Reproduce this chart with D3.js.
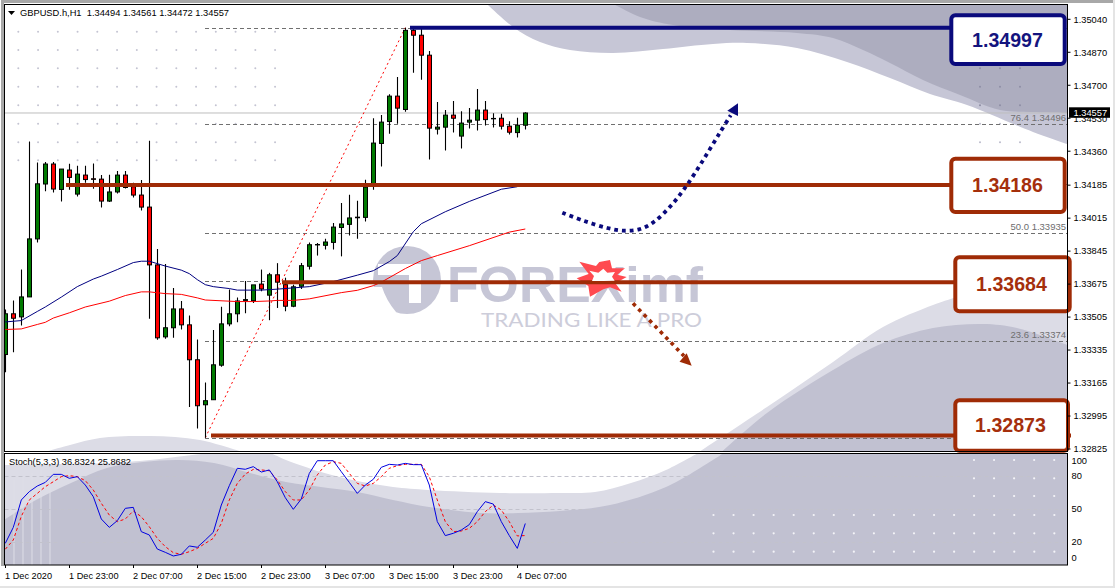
<!DOCTYPE html>
<html><head><meta charset="utf-8">
<script src="https://cdnjs.cloudflare.com/ajax/libs/d3/7.8.5/d3.min.js"></script>
<style>html,body{margin:0;padding:0;background:#fff;overflow:hidden}svg{display:block}text{font-family:"Liberation Sans",Arial,sans-serif}</style>
</head><body><svg id="c" width="1115" height="588"></svg>
<script>
const symbolTitle = "GBPUSD.h,H1  1.34494 1.34561 1.34472 1.34557";
const stochTitle = "Stoch(5,3,3) 36.8324 25.8682";
const opens = [1.33312,1.33522,1.33506,1.33609,1.33908,1.34191,1.34294,1.34163,1.34263,1.34139,1.34237,1.34218,1.34216,1.34103,1.34150,1.34237,1.34177,1.34134,1.34072,1.33774,1.33403,1.33450,1.33547,1.33465,1.33285,1.33053,1.33079,1.33257,1.33470,1.33522,1.33591,1.33590,1.33675,1.33618,1.33723,1.33672,1.33561,1.33664,1.33767,1.33877,1.33875,1.33890,1.33967,1.33983,1.34017,1.34019,1.34187,1.34400,1.34513,1.34644,1.34575,1.34983,1.34958,1.34855,1.34474,1.34484,1.34546,1.34438,1.34510,1.34520,1.34572,1.34529,1.34530,1.34489,1.34456,1.34494];
const highs = [1.33544,1.33590,1.33750,1.34410,1.34302,1.34305,1.34304,1.34268,1.34295,1.34285,1.34285,1.34297,1.34237,1.34239,1.34258,1.34258,1.34197,1.34211,1.34414,1.33856,1.33779,1.33655,1.33588,1.33513,1.33389,1.33168,1.33439,1.33558,1.33647,1.33606,1.33691,1.33671,1.33750,1.33733,1.33783,1.33708,1.33672,1.33784,1.33890,1.33887,1.33909,1.33990,1.34093,1.34136,1.34105,1.34213,1.34530,1.34547,1.34654,1.34743,1.34997,1.34997,1.34990,1.34877,1.34614,1.34573,1.34619,1.34566,1.34583,1.34681,1.34619,1.34556,1.34553,1.34515,1.34532,1.34561];
const lows = [1.33221,1.33324,1.33461,1.33609,1.33890,1.34153,1.34147,1.34101,1.34161,1.34127,1.34197,1.34167,1.34070,1.34098,1.34142,1.34168,1.34122,1.34055,1.33496,1.33388,1.33393,1.33398,1.33441,1.33041,1.32931,1.32883,1.33079,1.33249,1.33458,1.33478,1.33525,1.33578,1.33638,1.33489,1.33552,1.33535,1.33556,1.33650,1.33750,1.33822,1.33853,1.33853,1.33818,1.33926,1.33909,1.33998,1.34161,1.34281,1.34450,1.34501,1.34564,1.34765,1.34729,1.34317,1.34446,1.34364,1.34456,1.34374,1.34477,1.34467,1.34492,1.34482,1.34472,1.34446,1.34431,1.34472];
const closes = [1.33522,1.33499,1.33609,1.33908,1.34192,1.34294,1.34165,1.34268,1.34225,1.34242,1.34214,1.34215,1.34103,1.34150,1.34237,1.34173,1.34134,1.34072,1.33774,1.33398,1.33450,1.33547,1.33465,1.33285,1.33048,1.33074,1.33259,1.33470,1.33522,1.33588,1.33595,1.33671,1.33650,1.33723,1.33685,1.33561,1.33661,1.33770,1.33878,1.33879,1.33892,1.33969,1.33985,1.34016,1.34020,1.34175,1.34402,1.34510,1.34644,1.34582,1.34983,1.34958,1.34855,1.34479,1.34484,1.34546,1.34530,1.34505,1.34520,1.34572,1.34523,1.34527,1.34489,1.34458,1.34494,1.34557];

const maBlueBars = [0,2,4,5,7,9,11,12,14,16,17,18,20,22,23,24,25,26,28,29,32,34,38,41,44,46,48,49,51,52,55,58,62,64];
const maBlueVals = [1.33480,1.33487,1.33534,1.33557,1.33608,1.33662,1.33701,1.33716,1.33750,1.33786,1.33793,1.33793,1.33768,1.33747,1.33729,1.33698,1.33672,1.33662,1.33652,1.33644,1.33644,1.33649,1.33662,1.33688,1.33721,1.33744,1.33791,1.33822,1.33945,1.33986,1.34048,1.34101,1.34164,1.34177];
const maRedBars = [0,2,4,5,6,8,10,13,15,17,18,20,22,24,25,29,31,33,34,36,38,42,44,46,47,50,52,54,58,63,65];
const maRedVals = [1.33441,1.33444,1.33467,1.33478,1.33500,1.33527,1.33557,1.33587,1.33616,1.33635,1.33635,1.33626,1.33622,1.33604,1.33593,1.33585,1.33585,1.33588,1.33591,1.33591,1.33599,1.33631,1.33643,1.33667,1.33685,1.33755,1.33796,1.33822,1.33873,1.33943,1.33959];

const stochMain = [18.8,33.3,58.2,65.8,70.9,74.2,81.5,81.5,77.9,79.4,71.8,61.2,40.9,33.3,39.4,50.6,51.5,29.4,26.4,13.6,10.6,7.3,8.8,16.4,15.2,21.8,28.8,53.6,71.2,87,86.1,88.5,83.6,85.5,74.8,60.3,49.7,59.1,82.4,93.9,93.9,93.9,83.9,74.2,64.2,71.8,77,87.9,90.6,90,91.5,90.3,90.3,71.8,38.5,25.8,27.9,30.9,35.8,47.6,56.7,54.5,38.5,25.8,14.2,36.83];
const stochSignal = [13.4,21.8,43.3,58.2,64.2,70.3,74.8,79.4,80.3,79.4,75.8,67.3,55.2,44.5,38.5,40.9,48.2,43,33.9,23.3,15.8,10.3,8.8,11.2,14.2,18.8,23.3,36.9,58.2,73.3,81.8,86,85.5,84.8,76.4,65.8,58.2,58.2,67.3,81,90,93,91.5,82.4,73.3,70.9,73.3,79.4,87,89.4,90.6,90.6,90.6,79.4,58.2,38.5,29.4,30,32.4,38.5,47.6,53.6,49.1,38.5,25.5,25.87];

const priceTicks = [1.35040,1.34870,1.34700,1.34530,1.34360,1.34185,1.34015,1.33845,1.33675,1.33505,1.33335,1.33165,1.32995,1.32825];
const stochTicks = [100,80,50,20,0];
const stochLevels = [80,50,20];
const timeLabels = ["1 Dec 2020","1 Dec 23:00","2 Dec 07:00","2 Dec 15:00","2 Dec 23:00","3 Dec 07:00","3 Dec 15:00","3 Dec 23:00","4 Dec 07:00"];
const lastPrice = 1.34557;
const fibLow = 1.32883, fibHigh = 1.34997;
const fibRatios = [0,0.236,0.382,0.5,0.618,0.764,1];
const fibLabels = [["76.4 1.34496",0.764],["50.0 1.33935",0.5],["23.6 1.33374",0.236]];
const levelLabels = ["1.34997","1.34186","1.33684","1.32873"];

const svg = d3.select("#c");
const L=4.5,R=1067.5,T=4.5,B=452,ST=453.5,SB=565;
const x = d3.scaleLinear().domain([0,65]).range([5.3,525.3]);
const y = d3.scaleLinear().domain([1.32825,1.3504]).range([449,19.3]);
const ys = d3.scaleLinear().domain([0,100]).range([564,454]);

const defs = svg.append("defs");
defs.append("clipPath").attr("id","mainClip").append("rect").attr("x",L).attr("y",T).attr("width",R-L).attr("height",B-T);
defs.append("clipPath").attr("id","stClip").append("rect").attr("x",L).attr("y",ST).attr("width",R-L).attr("height",SB-ST);

// window chrome
svg.append("rect").attr("x",1).attr("y",0).attr("width",3).attr("height",566).attr("fill","#a8a8a8");
svg.append("rect").attr("x",1).attr("y",0).attr("width",1112).attr("height",3).attr("fill","#a8a8a8");
svg.append("rect").attr("x",0).attr("y",586).attr("width",1115).attr("height",2).attr("fill","#e4e4e4");
svg.append("rect").attr("x",1113).attr("y",0).attr("width",2).attr("height",588).attr("fill","#e4e4e4");

const smooth = d3.line().curve(d3.curveCatmullRom.alpha(0.5));
function area(g,pts,fill){ g.append("path").attr("d",smooth(pts.top)+(pts.close.length?"L"+pts.close.map(p=>p.join(",")).join("L"):"")+"Z").attr("fill",fill); }

const bg = svg.append("g").attr("clip-path","url(#mainClip)");
area(bg,{top:[[485,2],[513,27],[540,42],[570,50],[613,53],[663,49],[713,44],[747,43],[797,48],[847,62],[890,78],[930,94],[967,105],[1033,132],[1070,145]],close:[[1070,2]]},"#c6c6d6");
area(bg,{top:[[610,2],[640,17],[673,25],[730,30],[797,33],[833,38],[863,50],[890,63],[923,80],[960,95],[1000,110],[1030,112],[1070,113]],close:[[1070,2]]},"#adadbf");
area(bg,{top:[[690,458],[767,407],[833,362],[883,327],[933,305],[957,297],[1010,282],[1070,272]],close:[[1070,458]]},"#dcdce6");
area(bg,{top:[[715,458],[767,413],[833,370],[883,343],[933,328],[983,324],[1017,328],[1070,346]],close:[[1070,458]]},"#c1c1d1");
area(bg,{top:[[38,454],[70,445],[100,438],[150,436],[200,440],[248,454]],close:[]},"#dcdce6");

// dot grid
const dotXs = d3.range(14).map(i=>18.3+19.75*i), dotYs=[31.7,50,68.3,86.7,105.3,123.7,142.3,160.3];
const dotsG = bg.append("g").attr("fill","#c4c4d2");
dotYs.forEach(dy=>dotXs.forEach(dx=>dotsG.append("circle").attr("cx",dx).attr("cy",dy).attr("r",1)));
[68.3,86.7,105.3,123.7,142.3].forEach(dy=>[980,1000,1020].forEach(dx=>dotsG.append("circle").attr("cx",dx).attr("cy",dy).attr("r",1).attr("fill",dy<110?"#8e8ea4":"#bcbccc")));

// watermark
const wm = svg.append("g");
wm.append("circle").attr("cx",407).attr("cy",280).attr("r",34).attr("fill","#c6c6d6");
wm.append("path").attr("fill","#fff").attr("d","M378 264H421V303H409V275H378Z");
wm.append("path").attr("fill","#fff").attr("d","M370 287H382Q386 300 396 312L380 312Z");
wm.append("text").attr("x",447).attr("y",302).attr("font-size",50).attr("font-weight",700).attr("fill","#c6c6d6").attr("textLength",256).attr("lengthAdjust","spacingAndGlyphs").text("FOREXimf");
wm.append("text").attr("x",481).attr("y",327).attr("font-size",20).attr("fill","#cdcdda").style("font-family","Lato").attr("textLength",221).attr("lengthAdjust","spacingAndGlyphs").text("TRADING LIKE A PRO");

// price line + fib
const main = svg.append("g").attr("clip-path","url(#mainClip)");
main.append("line").attr("x1",L).attr("x2",R).attr("y1",y(lastPrice)).attr("y2",y(lastPrice)).attr("stroke","#bdbdbd");
const fibP = r=>fibLow+r*(fibHigh-fibLow);
main.selectAll(".fib").data(fibRatios).join("line").attr("x1",205).attr("x2",R)
  .attr("y1",d=>Math.round(y(fibP(d)))+.5).attr("y2",d=>Math.round(y(fibP(d)))+.5).attr("stroke","#707070").attr("stroke-dasharray","4 3");
main.append("line").attr("x1",x(25)).attr("x2",x(50)).attr("y1",y(fibLow)).attr("y2",y(fibHigh)).attr("stroke","#f00").attr("stroke-dasharray","2 3");
main.selectAll(".fl").data(fibLabels).join("text").attr("x",1066).attr("text-anchor","end")
  .attr("y",d=>y(fibP(d[1]))-3).attr("font-size",9.5).attr("fill","#6e6e6e").text(d=>d[0]);

// candles
const idx = d3.range(opens.length);
const cg = main.append("g");
cg.selectAll(".w").data(idx).join("line").attr("x1",i=>Math.round(x(i))+.5).attr("x2",i=>Math.round(x(i))+.5)
  .attr("y1",i=>y(highs[i])).attr("y2",i=>y(lows[i])).attr("stroke","#000").attr("stroke-width",1.1);
cg.selectAll(".b").data(idx).join("rect").attr("x",i=>Math.round(x(i))-1.5).attr("width",4)
  .attr("y",i=>y(Math.max(opens[i],closes[i]))).attr("height",i=>Math.abs(y(opens[i])-y(closes[i])))
  .attr("fill",i=>closes[i]>=opens[i]?"#007a00":"#ff0000").attr("stroke","#000");

// moving averages
const ln = d3.line().x(d=>x(d[0])).y(d=>y(d[1]));
main.append("path").attr("d",ln(maBlueBars.map((b,i)=>[b,maBlueVals[i]]))).attr("fill","none").attr("stroke","#000080").attr("stroke-width",1);
main.append("path").attr("d",ln(maRedBars.map((b,i)=>[b,maRedVals[i]]))).attr("fill","none").attr("stroke","#f00").attr("stroke-width",1);

// annotations
const BLUE="#0a0a7c",RUST="#9f2b06";
const ann = svg.append("g");
const star=[[718,185],[768,198],[778,186],[810,180],[816,205],[855,205],[832,224],[860,231],[826,250],[845,275],[810,262],[790,268],[750,290],[745,258],[710,235],[746,222]].map(p=>[340+p[0]/3,200+p[1]/3]);
ann.append("path").attr("d","M"+star.join("L")+"Z").attr("fill","#ff4a50");

const hline=(x1,x2,yy,c)=>ann.append("line").attr("x1",x1).attr("x2",x2).attr("y1",yy).attr("y2",yy).attr("stroke",c).attr("stroke-width",4);
hline(410,951,y(1.34997),BLUE);
hline(66,951,y(1.34186),RUST);
hline(282,955,y(1.33684),RUST);
hline(211,1071,y(1.32895),RUST);
const starIn=[[748,212],[775,218],[790,206],[802,218],[825,216],[816,230],[824,242],[790,243],[756,243],[762,228]].map(p=>[340+p[0]/3,200+p[1]/3]);
ann.append("path").attr("d","M"+starIn.join("L")+"Z").attr("fill","#fff");

// dotted arrows
const cur=d3.line().curve(d3.curveCatmullRom.alpha(0.5));
const bluePts=[[67,368],[133,393],[202,414],[250,422],[297,418],[340,397],[392,348],[437,291],[489,211],[539,129],[572,76]].map(p=>[540+p[0]/3,90+p[1]/3]);
ann.append("path").attr("d",cur(bluePts)).attr("fill","none").attr("stroke",BLUE).attr("stroke-width",3.8).attr("stroke-dasharray","3.8 4");
ann.append("path").attr("d","M"+[[594,40],[562,62],[594,78]].map(p=>[540+p[0]/3,90+p[1]/3]).join("L")+"Z").attr("fill",BLUE);
ann.append("line").attr("x1",633).attr("y1",303.3).attr("x2",684).attr("y2",356).attr("stroke",RUST).attr("stroke-width",3.6).attr("stroke-dasharray","3.6 4.2");
ann.append("path").attr("d","M691.7 365.7L679.5 361.7L686.7 353.3Z").attr("fill",RUST);

// boxes
const boxes=[[951.3,15.3,113.4,48.7,BLUE,"#14147e",1007.5,39.5,0],[951.3,158.7,113.4,53.3,RUST,"#a52f0c",1007.5,185,1],[955.3,257.3,114.4,54,RUST,"#a52f0c",1011.5,284,2],[955.3,400.3,112.7,50.4,RUST,"#a52f0c",1010.5,425,3]];
boxes.forEach(b=>{
  ann.append("rect").attr("x",b[0]).attr("y",b[1]).attr("width",b[2]).attr("height",b[3]).attr("rx",4).attr("fill","#fff").attr("stroke",b[4]).attr("stroke-width",4);
  ann.append("text").attr("x",b[6]).attr("y",b[7]).attr("text-anchor","middle").attr("dominant-baseline","central").attr("font-size",19.6).attr("font-weight",700).attr("fill",b[5]).text(levelLabels[b[8]]);
});

// frames
svg.append("rect").attr("x",L).attr("y",T).attr("width",R-L).attr("height",B-T-.5).attr("fill","none").attr("stroke","#000");

// title
svg.append("path").attr("d","M8 11H15L11.5 15Z").attr("fill","#000");
svg.append("text").attr("x",20).attr("y",16).attr("font-size",9.8).attr("fill","#000").style("white-space","pre").attr("textLength",209).attr("lengthAdjust","spacingAndGlyphs").text(symbolTitle);

// price axis
const axR = svg.append("g");
axR.selectAll("line").data(priceTicks).join("line").attr("x1",R).attr("x2",R+3).attr("y1",d=>y(d)).attr("y2",d=>y(d)).attr("stroke","#000");
axR.selectAll("text").data(priceTicks).join("text").attr("x",1073.5).attr("y",d=>y(d)+.3).attr("dominant-baseline","central").attr("font-size",9.3).attr("fill","#000").text(d=>d3.format(".5f")(d));
svg.append("rect").attr("x",1069).attr("y",107.3).attr("width",41).attr("height",10.5).attr("fill","#000");
svg.append("text").attr("x",1073.5).attr("y",112.8).attr("dominant-baseline","central").attr("font-size",9.3).attr("fill","#fff").text(d3.format(".5f")(lastPrice));

// stochastic panel
const st = svg.append("g").attr("clip-path","url(#stClip)");
st.append("rect").attr("x",L).attr("y",ST).attr("width",R-L).attr("height",SB-ST).attr("fill","#fff");
area(st,{top:[[4,465],[60,464],[110,463],[150,460],[215,453],[268,453],[286,460],[321,472],[357,481],[393,487],[429,490],[500,493],[560,493],[595,492],[631,483],[666,470],[700,452]],close:[[1070,452],[1070,566],[4,566]]},"#dcdce6");
area(st,{top:[[4,520],[36,500],[71,483],[107,468],[143,462],[179,460],[214,463],[250,473],[286,482],[321,487],[357,492],[393,500],[429,507],[482,513],[518,513],[560,511],[610,505],[666,487],[716,458],[725,452]],close:[[1070,452],[1070,566],[4,566]]},"#c1c1d1");
[14,23,32,41,50].forEach((vx,i)=>st.append("line").attr("x1",vx).attr("x2",vx).attr("y1",[480,477,473,470,488][i]).attr("y2",565).attr("stroke","#dedee7").attr("stroke-width",1));
const sd = st.append("g").attr("fill","#f4f4f8");
[515,533.3,551.7].forEach(dy=>d3.range(18).forEach(i=>sd.append("circle").attr("cx",713.5+20.05*i).attr("cy",dy).attr("r",1.1)));
[460,478.3,496].forEach(dy=>d3.range(5).forEach(i=>sd.append("circle").attr("cx",974+20.05*i).attr("cy",dy).attr("r",1.1)));
st.selectAll(".lv").data(stochLevels).join("line").attr("x1",L).attr("x2",R).attr("y1",d=>Math.round(ys(d))+.5).attr("y2",d=>Math.round(ys(d))+.5).attr("stroke","#c2c2cc").attr("stroke-dasharray","4 3");
const sl = d3.line().x((d,i)=>x(i)).y(d=>ys(d));
st.append("path").attr("d",sl(stochSignal)).attr("fill","none").attr("stroke","#f00").attr("stroke-dasharray","3 2.5").attr("stroke-width",1);
st.append("path").attr("d",sl(stochMain)).attr("fill","none").attr("stroke","#0000e0").attr("stroke-width",1);
svg.append("rect").attr("x",L).attr("y",ST).attr("width",R-L).attr("height",SB-ST).attr("fill","none").attr("stroke","#000");
svg.append("text").attr("x",9).attr("y",465).attr("font-size",9.6).attr("fill","#000").attr("textLength",122).attr("lengthAdjust","spacingAndGlyphs").text(stochTitle);

const stLabelY=v=>v===100?460.5:v===0?558:ys(v);
svg.append("g").selectAll("text").data(stochTicks).join("text").attr("x",1071.5).attr("y",stLabelY).attr("dominant-baseline","central").attr("font-size",9.3).attr("fill","#000").text(d=>d);

// time axis
const tg = svg.append("g");
tg.selectAll("line").data(timeLabels).join("line").attr("x1",(d,i)=>Math.round(x(i*8))+.5).attr("x2",(d,i)=>Math.round(x(i*8))+.5).attr("y1",SB).attr("y2",SB+3).attr("stroke","#000");
tg.selectAll("text").data(timeLabels).join("text").attr("x",(d,i)=>x(i*8)-.3).attr("y",578.5).attr("font-size",9.2).attr("fill","#000").text(d=>d);
</script></body></html>
